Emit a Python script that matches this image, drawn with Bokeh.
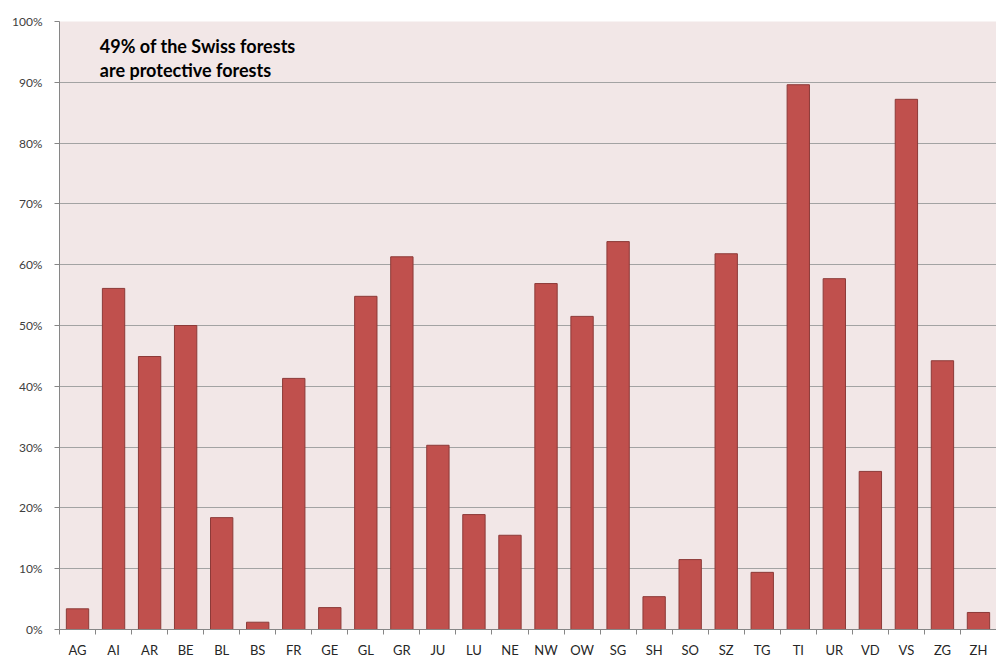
from bokeh.plotting import figure
from bokeh.models import Range1d, FixedTicker, NumeralTickFormatter, Label, ColumnDataSource
from bokeh.embed import file_html
from bokeh.resources import INLINE

cantons = ["AG", "AI", "AR", "BE", "BL", "BS", "FR", "GE", "GL", "GR", "JU", "LU", "NE",
           "NW", "OW", "SG", "SH", "SO", "SZ", "TG", "TI", "UR", "VD", "VS", "ZG", "ZH"]
share = [3.4, 56.1, 44.9, 50.0, 18.4, 1.2, 41.3, 3.6, 54.8, 61.3, 30.3, 18.9, 15.5,
         56.9, 51.5, 63.8, 5.4, 11.5, 61.8, 9.4, 89.6, 57.7, 26.0, 87.2, 44.2, 2.8]
y_ticks = [0, 0.1, 0.2, 0.3, 0.4, 0.5, 0.6, 0.7, 0.8, 0.9, 1.0]
note_lines = ["49% of the Swiss forests", "are protective forests"]

n = len(cantons)
centers = [i + 0.5 for i in range(n)]
bounds = list(range(n + 1))

src = ColumnDataSource(dict(x=centers, top=[v / 100 for v in share], name=cantons))

p = figure(width=996, height=660, output_backend="svg", toolbar_location=None,
           x_range=Range1d(0, n), y_range=Range1d(0, 1),
           min_border_left=59, min_border_right=0, min_border_top=21, min_border_bottom=19)
p.background_fill_color = "#f2e7e7"
p.border_fill_color = "white"
p.outline_line_color = None

p.vbar(x="x", top="top", width=0.62, bottom=0, source=src,
       fill_color="#c0504d", line_color="#8c3a38", line_width=1)

# x axis
p.xaxis.ticker = FixedTicker(ticks=centers, minor_ticks=bounds)
p.xaxis.major_label_overrides = {c: name for c, name in zip(centers, cantons)}
p.xaxis.major_tick_line_color = None
p.xaxis.minor_tick_line_color = "#868686"
p.xaxis.minor_tick_in = 0
p.xaxis.minor_tick_out = 5
p.xaxis.axis_line_color = "#868686"
p.xaxis.major_label_text_font = "Lato"
p.xaxis.major_label_text_font_size = "13px"
p.xaxis.major_label_text_color = "#262626"
p.xaxis.major_label_standoff = 6

# y axis
p.yaxis.ticker = FixedTicker(ticks=y_ticks)
p.yaxis.formatter = NumeralTickFormatter(format="0%")
p.yaxis.axis_line_color = "#868686"
p.yaxis.major_tick_line_color = "#868686"
p.yaxis.major_tick_in = 0
p.yaxis.major_tick_out = 5
p.yaxis.minor_tick_line_color = None
p.yaxis.major_label_text_font = "Lato"
p.yaxis.major_label_text_font_size = "12px"
p.yaxis.major_label_text_color = "#404040"
p.yaxis.major_label_standoff = 12

p.xgrid.grid_line_color = None
p.ygrid.ticker = FixedTicker(ticks=y_ticks)
p.ygrid.grid_line_color = "#a3a3a3"
p.ygrid.grid_line_width = 1

for k, line in enumerate(note_lines):
    p.add_layout(Label(x=1.12, y=0.977 - k * 0.039, text=line, text_font="Lato",
                       text_font_style="bold", text_font_size="18px", text_color="black",
                       text_baseline="top", text_align="left"))

open("out.html", "w").write(file_html(p, INLINE))
